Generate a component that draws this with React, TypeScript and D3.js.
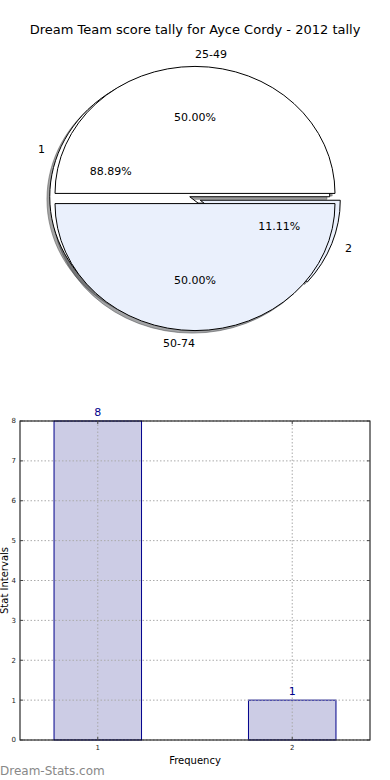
import { useEffect, useRef } from 'react';
import * as d3 from 'd3';

const title = 'Dream Team score tally for Ayce Cordy - 2012 tally';

// outer pie: score ranges
const rangeLabels = ['25-49', '50-74'];
const rangeValues = [50, 50];

// inner pie: frequencies
const freqLabels = ['1', '2'];
const freqValues = [8, 1];

// bar chart
const barCategories = [1, 2];
const barValues = [8, 1];
const yTicks = [0, 1, 2, 3, 4, 5, 6, 7, 8];

const sliceColors = ['#ffffff', '#eaf0fc'];
const FONT = '"DejaVu Sans", Verdana, sans-serif';

export default function App() {
    const svgRef = useRef<SVGSVGElement>(null);

    useEffect(() => {
        const svg = d3.select(svgRef.current);
        svg.selectAll('*').remove();

        const width = 390;
        const height = 780;
        svg.attr('width', width).attr('height', height);

        svg.append('rect').attr('width', width).attr('height', height).attr('fill', '#fff');

        // title
        svg.append('text')
            .attr('x', 195)
            .attr('y', 34)
            .attr('text-anchor', 'middle')
            .style('font-family', FONT)
            .style('font-size', '13px')
            .text(title);

        // ---- pie ----
        const cx = 195;
        const cy = 198.5;
        const rx = 140;
        const ry = 127;
        const explode = 0.04;

        // angles counter-clockwise from 3 o'clock (matplotlib style)
        const pie = d3.pie<number>().sort(null);

        // elliptical wedge
        const wedge = (ox: number, oy: number, t0: number, t1: number) => {
            const x0 = ox + rx * Math.cos(t0);
            const y0 = oy - ry * Math.sin(t0);
            const x1 = ox + rx * Math.cos(t1);
            const y1 = oy - ry * Math.sin(t1);
            const large = t1 - t0 > Math.PI ? 1 : 0;
            return `M${ox},${oy}L${x0},${y0}A${rx},${ry},0,${large},0,${x1},${y1}Z`;
        };

        const pies = [
            { labels: freqLabels, slices: pie(freqValues) },
            { labels: rangeLabels, slices: pie(rangeValues) },
        ];

        const shadowLayer = svg.append('g');
        const wedgeLayer = svg.append('g');
        const textLayer = svg.append('g');

        pies.forEach((p) => {
            const total = d3.sum(p.slices, (s) => s.value);
            p.slices.forEach((s, i) => {
                const tm = (s.startAngle + s.endAngle) / 2;
                const ux = Math.cos(tm);
                const uy = -Math.sin(tm);
                const ox = cx + explode * rx * ux;
                const oy = cy + explode * ry * uy;
                const col = d3.rgb(sliceColors[i % sliceColors.length]);
                const shadowCol = d3.rgb(col.r * 0.3, col.g * 0.3, col.b * 0.3).toString();

                shadowLayer.append('path')
                    .attr('d', wedge(ox - 0.02 * rx, oy + 0.02 * ry, s.startAngle, s.endAngle))
                    .attr('fill', shadowCol)
                    .attr('fill-opacity', 0.5)
                    .attr('stroke', shadowCol)
                    .attr('stroke-opacity', 0.5)
                    .attr('stroke-width', 1);

                wedgeLayer.append('path')
                    .attr('d', wedge(ox, oy, s.startAngle, s.endAngle))
                    .attr('fill', col.toString())
                    .attr('stroke', '#000')
                    .attr('stroke-width', 1);

                // top label starts at the centre line, bottom label ends at it
                let anchor = ux > 0 ? 'start' : 'end';
                if (Math.abs(ux) < 1e-9) anchor = uy < 0 ? 'start' : 'end';

                textLayer.append('text')
                    .attr('x', ox + 1.1 * rx * ux)
                    .attr('y', oy + 1.1 * ry * uy)
                    .attr('dy', '0.35em')
                    .attr('text-anchor', anchor)
                    .style('font-family', FONT)
                    .style('font-size', '11px')
                    .text(p.labels[i]);

                textLayer.append('text')
                    .attr('x', ox + 0.6 * rx * ux)
                    .attr('y', oy + 0.6 * ry * uy)
                    .attr('dy', '0.35em')
                    .attr('text-anchor', 'middle')
                    .style('font-family', FONT)
                    .style('font-size', '11px')
                    .text(`${((s.value / total) * 100).toFixed(2)}%`);
            });
        });

        // ---- bar chart ----
        const left = 20;
        const right = 370;
        const top = 421;
        const bottom = 740;

        const x = d3.scaleLinear().domain([0.6, 2.4]).range([left, right]);
        const y = d3.scaleLinear().domain([0, 8]).range([bottom, top]);
        const barW = 0.45;

        svg.append('g')
            .selectAll('rect')
            .data(barCategories)
            .join('rect')
            .attr('x', (d) => x(d - barW / 2))
            .attr('y', (d, i) => y(barValues[i]))
            .attr('width', (d) => x(d + barW / 2) - x(d - barW / 2))
            .attr('height', (d, i) => y(0) - y(barValues[i]))
            .attr('fill', '#ccccE5')
            .attr('stroke', '#00008b')
            .attr('stroke-width', 1);

        // grid
        const grid = svg.append('g')
            .attr('stroke', '#aaa')
            .attr('stroke-width', 1)
            .attr('stroke-dasharray', '1.5,2');
        yTicks.forEach((t) => {
            grid.append('line')
                .attr('x1', left).attr('x2', right)
                .attr('y1', y(t)).attr('y2', y(t));
        });
        barCategories.forEach((c) => {
            grid.append('line')
                .attr('x1', x(c)).attr('x2', x(c))
                .attr('y1', top).attr('y2', bottom);
        });

        // frame
        svg.append('rect')
            .attr('x', left).attr('y', top)
            .attr('width', right - left).attr('height', bottom - top)
            .attr('fill', 'none')
            .attr('stroke', '#000')
            .attr('stroke-width', 1);

        // ticks
        const ticks = svg.append('g').attr('stroke', '#444').attr('stroke-width', 1);
        yTicks.forEach((t) => {
            ticks.append('line').attr('x1', left).attr('x2', left + 3).attr('y1', y(t)).attr('y2', y(t));
            ticks.append('line').attr('x1', right - 3).attr('x2', right).attr('y1', y(t)).attr('y2', y(t));
        });
        barCategories.forEach((c) => {
            ticks.append('line').attr('x1', x(c)).attr('x2', x(c)).attr('y1', bottom).attr('y2', bottom - 3);
            ticks.append('line').attr('x1', x(c)).attr('x2', x(c)).attr('y1', top).attr('y2', top + 3);
        });

        svg.append('g')
            .selectAll('text')
            .data(yTicks)
            .join('text')
            .attr('x', left - 4)
            .attr('y', (d) => y(d))
            .attr('dy', '0.35em')
            .attr('text-anchor', 'end')
            .style('font-family', FONT)
            .style('font-size', '7px')
            .attr('fill', '#222')
            .text((d) => d);

        svg.append('g')
            .selectAll('text')
            .data(barCategories)
            .join('text')
            .attr('x', (d) => x(d))
            .attr('y', bottom + 10)
            .attr('text-anchor', 'middle')
            .style('font-family', FONT)
            .style('font-size', '7px')
            .attr('fill', '#222')
            .text((d) => d);

        // value labels
        svg.append('g')
            .selectAll('text')
            .data(barCategories)
            .join('text')
            .attr('x', (d) => x(d))
            .attr('y', (d, i) => y(barValues[i]) - 5)
            .attr('text-anchor', 'middle')
            .style('font-family', FONT)
            .style('font-size', '11px')
            .attr('fill', '#00008b')
            .text((d, i) => barValues[i]);

        // axis titles
        svg.append('text')
            .attr('x', 195)
            .attr('y', 764)
            .attr('text-anchor', 'middle')
            .style('font-family', FONT)
            .style('font-size', '10px')
            .text('Frequency');

        svg.append('text')
            .attr('transform', `translate(8,${(top + bottom) / 2}) rotate(-90)`)
            .attr('text-anchor', 'middle')
            .style('font-family', FONT)
            .style('font-size', '10px')
            .text('Stat Intervals');

        // watermark
        svg.append('text')
            .attr('x', 0)
            .attr('y', 775)
            .style('font-family', FONT)
            .style('font-size', '12px')
            .attr('fill', '#888')
            .text('Dream-Stats.com');
    }, []);

    return (
        <svg ref={svgRef} style={{ position: 'absolute', left: 0, top: 0 }} />
    );
}
